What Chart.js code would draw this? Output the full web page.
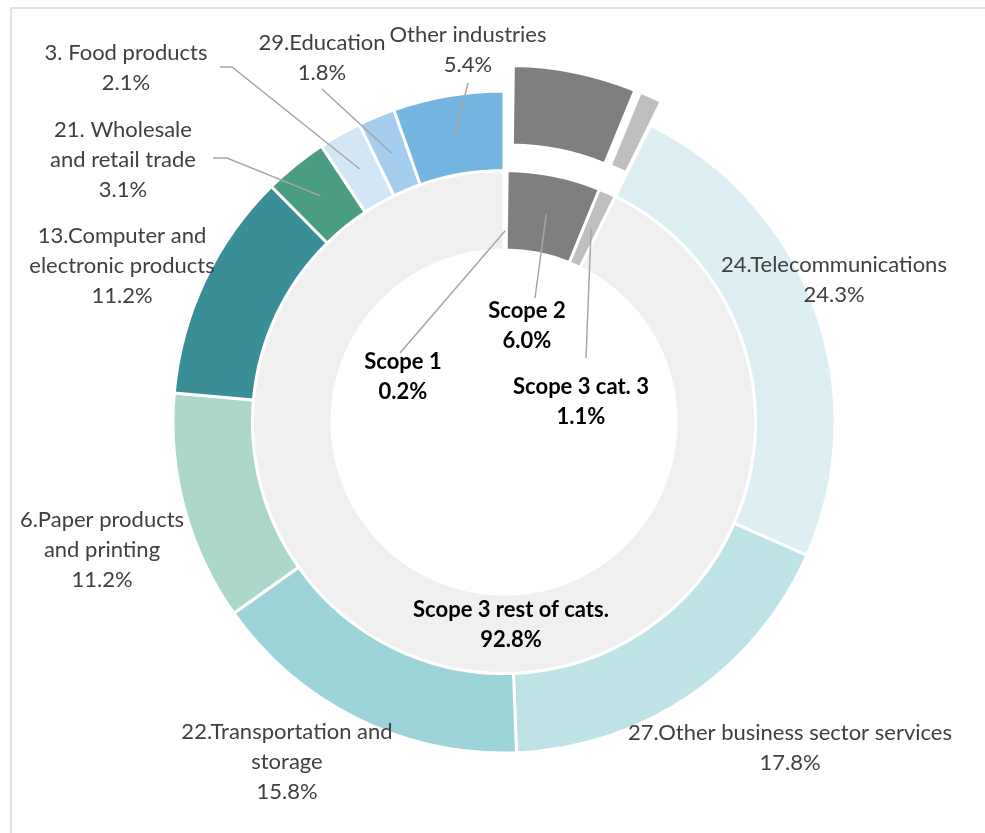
<!DOCTYPE html>
<html>
<head>
<meta charset="utf-8">
<script src="https://cdn.jsdelivr.net/npm/chart.js@4.4.1/dist/chart.umd.min.js"></script>
<style>
  html, body { margin: 0; padding: 0; background: #fff; }
  #wrap { width: 985px; height: 833px; }
</style>
</head>
<body>
<div id="wrap"><canvas id="canvasScopes" width="985" height="833"></canvas></div>
<script>
// emissions by scope (inner ring), in %
var scopeLabels = ['Scope 1', 'Scope 2', 'Scope 3 cat. 3', 'Scope 3 rest of cats.'];
var scopeShares = [0.2, 6.0, 1.1, 92.8];

// scope 3 rest of cats. split by industry (outer ring), in %
var industryLabels = [
	'24.Telecommunications',
	'27.Other business sector services',
	'22.Transportation and storage',
	'6.Paper products and printing',
	'13.Computer and electronic products',
	'21. Wholesale and retail trade',
	'3. Food products',
	'29.Education',
	'Other industries'
];
var industryShares = [24.3, 17.8, 15.8, 11.2, 11.2, 3.1, 2.1, 1.8, 5.4];

// scope 1 is too thin to show, keep it white
var scopeColors = ['#ffffff', '#7f7f7f', '#bfbfbf', '#f0f0f0'];
var industryColors = ['#ddeff2', '#bde3e6', '#9dd4da', '#acd8cc', '#3a8e98', '#4a9c82', '#d3e6f5', '#a5cdee', '#75b5e2'];

// outer ring = first three scopes + the industries
var outerLabels = scopeLabels.slice(0, 3).concat(industryLabels);
var outerShares = scopeShares.slice(0, 3).concat(industryShares);
var outerColors = scopeColors.slice(0, 3).concat(industryColors);
// pixels each outer slice is pulled out of the ring
var outerExplode = [0, 26, 26, 0, 0, 0, 0, 0, 0, 0, 0, 0];

var FONT = 'Lato, "Open Sans", sans-serif';
var FONT_SIZE = 22;
var LINE_H = 30;

// where the labels go, relative to the centre of the doughnut
// ring 0 = outer, ring 1 = inner; from/elbow = leader line start
var labelPlan = [
	{ring: 0, index: 3, dx: 330, dy: -157, wrap: 500},
	{ring: 0, index: 4, dx: 286, dy: 311, wrap: 500},
	{ring: 0, index: 5, dx: -217, dy: 310, wrap: 235},
	{ring: 0, index: 6, dx: -402, dy: 98, wrap: 180},
	{ring: 0, index: 7, dx: -382, dy: -186, wrap: 200},
	{ring: 0, index: 8, dx: -381, dy: -292, wrap: 155, from: [-291, -264], elbow: [-277, -264]},
	{ring: 0, index: 9, dx: -378, dy: -369, wrap: 500, from: [-284, -355], elbow: [-272, -355]},
	{ring: 0, index: 10, dx: -182, dy: -379, wrap: 500, from: [-182, -333]},
	{ring: 0, index: 11, dx: -36, dy: -387, wrap: 500, from: [-36, -339]},
	{ring: 1, index: 0, dx: -101, dy: -60, wrap: 500, bold: true, from: [-104, -69], rf: 0.24},
	{ring: 1, index: 1, dx: 23, dy: -111, wrap: 500, bold: true, from: [31, -124]},
	{ring: 1, index: 2, dx: 77, dy: -35, wrap: 500, bold: true, from: [82, -64]},
	{ring: 1, index: 3, dx: 7, dy: 188, wrap: 500, bold: true}
];

function wrapText(ctx, text, maxWidth){
	var words = text.split(' ');
	var lines = [];
	var line = '';
	words.forEach(function(w){
		var test = line ? line + ' ' + w : w;
		if(line && ctx.measureText(test).width > maxWidth){
			lines.push(line);
			line = w;
		} else {
			line = test;
		}
	});
	if(line) lines.push(line);
	return lines;
}

// point inside a slice: middle angle, rf = fraction of ring thickness
function anchorOf(arc, rf){
	var p = arc.getProps(['x', 'y', 'startAngle', 'endAngle', 'innerRadius', 'outerRadius'], true);
	var mid = (p.startAngle + p.endAngle) / 2;
	var r = p.innerRadius + rf * (p.outerRadius - p.innerRadius);
	return {x: p.x + Math.cos(mid) * r, y: p.y + Math.sin(mid) * r};
}

// pull the exploded slices straight out along their middle angle
var explodePlugin = {
	id: 'explodeSlices',
	afterDatasetUpdate: function(chart, args){
		if(args.index !== 0) return;
		var arcs = chart.getDatasetMeta(0).data;
		arcs.forEach(function(arc, i){
			var d = outerExplode[i];
			if(!d) return;
			var mid = (arc.startAngle + arc.endAngle) / 2;
			arc.x += Math.cos(mid) * d;
			arc.y += Math.sin(mid) * d;
		});
	}
};

var framePlugin = {
	id: 'frame',
	beforeDraw: function(chart){
		var ctx = chart.ctx;
		ctx.save();
		ctx.fillStyle = '#ffffff';
		ctx.fillRect(0, 0, chart.width, chart.height);
		ctx.strokeStyle = '#d9d9d9';
		ctx.lineWidth = 1.5;
		ctx.strokeRect(11, 8, chart.width + 20, chart.height + 20);
		ctx.restore();
	}
};

var labelPlugin = {
	id: 'sliceLabels',
	afterDatasetsDraw: function(chart){
		var ctx = chart.ctx;
		var area = chart.chartArea;
		var cx = (area.left + area.right) / 2;
		var cy = (area.top + area.bottom) / 2;
		ctx.save();

		// leader lines
		ctx.strokeStyle = '#a6a6a6';
		ctx.lineWidth = 1.5;
		labelPlan.forEach(function(p){
			if(!p.from) return;
			var arc = chart.getDatasetMeta(p.ring).data[p.index];
			var a = anchorOf(arc, p.rf == null ? 0.5 : p.rf);
			ctx.beginPath();
			ctx.moveTo(cx + p.from[0], cy + p.from[1]);
			if(p.elbow) ctx.lineTo(cx + p.elbow[0], cy + p.elbow[1]);
			ctx.lineTo(a.x, a.y);
			ctx.stroke();
		});

		// name + share
		ctx.textAlign = 'center';
		ctx.textBaseline = 'middle';
		labelPlan.forEach(function(p){
			var names = p.ring === 0 ? outerLabels : scopeLabels;
			var value = chart.data.datasets[p.ring].data[p.index];
			ctx.font = (p.bold ? 'bold ' : '') + FONT_SIZE + 'px ' + FONT;
			ctx.fillStyle = p.bold ? '#000000' : '#404040';
			var lines = wrapText(ctx, names[p.index], p.wrap);
			lines.push(value.toFixed(1) + '%');
			lines.forEach(function(l, i){
				ctx.fillText(l, cx + p.dx, cy + p.dy + i * LINE_H);
			});
		});
		ctx.restore();
	}
};

var ctx = document.getElementById('canvasScopes').getContext('2d');
window.myDoughnut = new Chart(ctx, {
	type: 'doughnut',
	data: {
		labels: outerLabels,
		datasets: [
			{
				label: 'Industries',
				data: outerShares,
				backgroundColor: outerColors,
				borderColor: '#ffffff',
				borderWidth: 3
			},
			{
				label: 'Scopes',
				data: scopeShares,
				backgroundColor: scopeColors,
				borderColor: '#ffffff',
				borderWidth: 3
			}
		]
	},
	options: {
		responsive: false,
		animation: false,
		events: [],
		radius: 331,
		cutout: '52%',
		layout: {
			padding: {left: 23, top: 11, right: 0, bottom: 0}
		},
		plugins: {
			legend: {display: false},
			tooltip: {enabled: false}
		}
	},
	plugins: [framePlugin, explodePlugin, labelPlugin]
});
</script>
</body>
</html>
